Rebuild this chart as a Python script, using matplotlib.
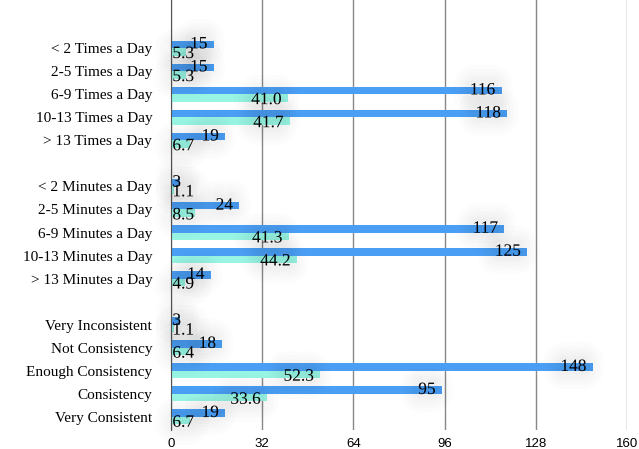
import matplotlib.pyplot as plt
import matplotlib.patheffects as pe
import numpy as np

categories = [
    "< 2 Times a Day", "2-5 Times a Day", "6-9 Times a Day", "10-13 Times a Day", "> 13 Times a Day",
    "",
    "< 2 Minutes a Day", "2-5 Minutes a Day", "6-9 Minutes a Day", "10-13 Minutes a Day", "> 13 Minutes a Day",
    "",
    "Very Inconsistent", "Not Consistency", "Enough Consistency", "Consistency", "Very Consistent",
]
counts = [15, 15, 116, 118, 19, None, 3, 24, 117, 125, 14, None, 3, 18, 148, 95, 19]
percents = [5.3, 5.3, 41.0, 41.7, 6.7, None, 1.1, 8.5, 41.3, 44.2, 4.9, None, 1.1, 6.4, 52.3, 33.6, 6.7]
ticks = [0, 32, 64, 96, 128, 160]

blue = "#4a9ff5"
cyan = "#98f5e4"
serif = "Liberation Serif"

fig = plt.figure(figsize=(6.39, 4.49), dpi=100)
ax = fig.add_axes([171 / 639, 19 / 449, 456 / 639, 430 / 449])

h = 0.33
y = np.arange(len(categories))
# soft grey halo behind the value labels
glow = [pe.Stroke(linewidth=w, foreground="#000000", alpha=0.012) for w in (26, 20, 15, 10, 6)] + [pe.Normal()]

texts = []
for i, (c, p) in enumerate(zip(counts, percents)):
    if c is None:
        continue
    ax.barh(i - h / 2, c, height=h, color=blue, zorder=3)
    ax.barh(i + h / 2, p, height=h, color=cyan, zorder=3)
    t1 = ax.annotate(str(c), (c, i - h / 2), xytext=(-4.5, 0), textcoords="offset points",
                     ha="right", va="center", fontsize=12.5, family=serif, zorder=5, path_effects=glow)
    t2 = ax.annotate(f"{p:.1f}", (p, i + h / 2), xytext=(-4.5, -1.5), textcoords="offset points",
                     ha="right", va="center", fontsize=12.5, family=serif, zorder=5, path_effects=glow)
    texts += [(t1, i - h / 2, 0), (t2, i + h / 2, -1.5)]

ax.set_xlim(0, 160)
ax.set_ylim(16.57, -2.09)
ax.set_xticks(ticks)
ax.set_xticklabels([str(t) for t in ticks], family="Liberation Sans", fontsize=9.5)
ax.set_yticks([i for i, c in enumerate(categories) if c])
ax.set_yticklabels([c for c in categories if c], family=serif, fontsize=11)
ax.tick_params(length=0, pad=6)
ax.tick_params(axis="y", pad=13.5)
ax.grid(axis="x", color="#888888", linewidth=1, zorder=1)
for s in ["top", "right", "bottom"]:
    ax.spines[s].set_visible(False)
ax.spines["left"].set_color("#555555")
ax.spines["left"].set_zorder(4)

# keep short labels from running past the axis
fig.canvas.draw()
r = fig.canvas.get_renderer()
x0 = ax.get_window_extent().x0
for t, yy, dy in texts:
    if t.get_window_extent(r).x0 < x0 + 1:
        t.xy = (0, yy)
        t.set_position((1, dy))
        t.set_ha("left")

fig.savefig("out.png", dpi=100)
